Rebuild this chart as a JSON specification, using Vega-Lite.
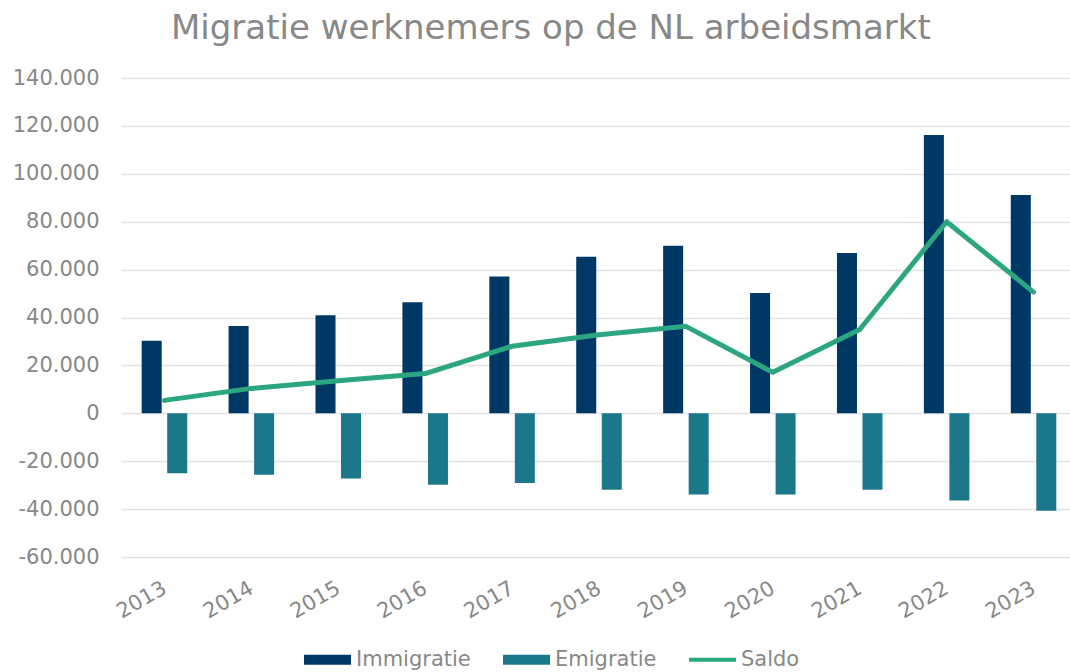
{
  "$schema": "https://vega.github.io/schema/vega-lite/v6.json",
  "autosize": "none",
  "width": 949,
  "height": 479,
  "padding": {"left": 121, "top": 78, "right": 0, "bottom": 115},
  "background": "#ffffff",
  "title": {
    "text": "Migratie werknemers op de NL arbeidsmarkt",
    "anchor": "start",
    "frame": "group",
    "dx": 50,
    "dy": 36,
    "offset": 30,
    "baseline": "alphabetic",
    "font": "DejaVu Sans",
    "fontSize": 34,
    "fontWeight": "normal",
    "color": "#888888"
  },
  "data": {
    "values": [
      {"year": "2013", "series": "Immigratie", "value": 30300},
      {"year": "2014", "series": "Immigratie", "value": 36400},
      {"year": "2015", "series": "Immigratie", "value": 40900},
      {"year": "2016", "series": "Immigratie", "value": 46400},
      {"year": "2017", "series": "Immigratie", "value": 57100},
      {"year": "2018", "series": "Immigratie", "value": 65400},
      {"year": "2019", "series": "Immigratie", "value": 70000},
      {"year": "2020", "series": "Immigratie", "value": 50200},
      {"year": "2021", "series": "Immigratie", "value": 66900},
      {"year": "2022", "series": "Immigratie", "value": 116200},
      {"year": "2023", "series": "Immigratie", "value": 91200},
      {"year": "2013", "series": "Emigratie", "value": -25000},
      {"year": "2014", "series": "Emigratie", "value": -25700},
      {"year": "2015", "series": "Emigratie", "value": -27200},
      {"year": "2016", "series": "Emigratie", "value": -29800},
      {"year": "2017", "series": "Emigratie", "value": -29100},
      {"year": "2018", "series": "Emigratie", "value": -31900},
      {"year": "2019", "series": "Emigratie", "value": -33900},
      {"year": "2020", "series": "Emigratie", "value": -33900},
      {"year": "2021", "series": "Emigratie", "value": -31900},
      {"year": "2022", "series": "Emigratie", "value": -36400},
      {"year": "2023", "series": "Emigratie", "value": -40700},
      {"year": "2013", "series": "Saldo", "value": 5400},
      {"year": "2014", "series": "Saldo", "value": 10400},
      {"year": "2015", "series": "Saldo", "value": 13600},
      {"year": "2016", "series": "Saldo", "value": 16600},
      {"year": "2017", "series": "Saldo", "value": 28000},
      {"year": "2018", "series": "Saldo", "value": 32800},
      {"year": "2019", "series": "Saldo", "value": 36300},
      {"year": "2020", "series": "Saldo", "value": 17100},
      {"year": "2021", "series": "Saldo", "value": 35000},
      {"year": "2022", "series": "Saldo", "value": 80000},
      {"year": "2023", "series": "Saldo", "value": 50600}
    ]
  },
  "encoding": {
    "x": {
      "field": "year",
      "type": "nominal",
      "scale": {"range": [0, 956], "paddingInner": 0.476, "paddingOuter": 0.238},
      "axis": {
        "title": null,
        "domain": false,
        "ticks": false,
        "grid": false,
        "labelAngle": -30,
        "labelFont": "DejaVu Sans",
        "labelFontSize": 21,
        "labelColor": "#888888",
        "labelPadding": 20,
        "labelOffset": -5
      }
    },
    "y": {
      "field": "value",
      "type": "quantitative",
      "scale": {"domain": [-60000, 140000], "nice": false, "zero": false},
      "axis": {
        "title": null,
        "domain": false,
        "ticks": false,
        "values": [-60000, -40000, -20000, 0, 20000, 40000, 60000, 80000, 100000, 120000, 140000],
        "labelExpr": "(datum.value < 0 ? '-' : '') + replace(format(abs(datum.value), ','), regexp(',', 'g'), '.')",
        "labelFont": "DejaVu Sans",
        "labelFontSize": 21,
        "labelColor": "#888888",
        "labelPadding": 22,
        "gridColor": "#e2e2e2",
        "gridWidth": 1.6
      }
    },
    "color": {
      "field": "series",
      "type": "nominal",
      "scale": {
        "domain": ["Immigratie", "Emigratie", "Saldo"],
        "range": ["#003865", "#1b788a", "#2ca680"]
      },
      "legend": {
        "orient": "none",
        "legendX": 183,
        "legendY": 558,
        "direction": "horizontal",
        "title": null,
        "symbolSize": 2209,
        "symbolType": "M-1,-0.213H1V0.213H-1Z",
        "symbolStrokeWidth": 0,
        "labelFont": "DejaVu Sans",
        "labelFontSize": 21,
        "labelColor": "#888888",
        "labelOffset": 5,
        "columnPadding": 32,
        "encode": {
          "symbols": {
            "update": {
              "shape": {"signal": "datum.value === 'Saldo' ? 'M-1,-0.09H1V0.09H-1Z' : 'M-1,-0.213H1V0.213H-1Z'"},
              "fill": {"scale": "color", "field": "value"},
              "fillOpacity": {"value": 1},
              "strokeWidth": {"value": 0},
              "opacity": {"value": 1}
            }
          }
        }
      }
    }
  },
  "layer": [
    {
      "transform": [{"filter": "datum.series !== 'Saldo'"}],
      "mark": {"type": "bar"},
      "encoding": {
        "xOffset": {
          "field": "series",
          "type": "nominal",
          "scale": {"domain": ["Immigratie", "Emigratie"], "paddingInner": 0.216, "paddingOuter": 0}
        }
      }
    },
    {
      "transform": [{"filter": "datum.series === 'Saldo'"}],
      "mark": {"type": "line", "strokeWidth": 5, "strokeJoin": "round", "strokeCap": "round"},
      "encoding": {}
    }
  ],
  "config": {
    "view": {"stroke": null},
    "font": "DejaVu Sans"
  }
}
